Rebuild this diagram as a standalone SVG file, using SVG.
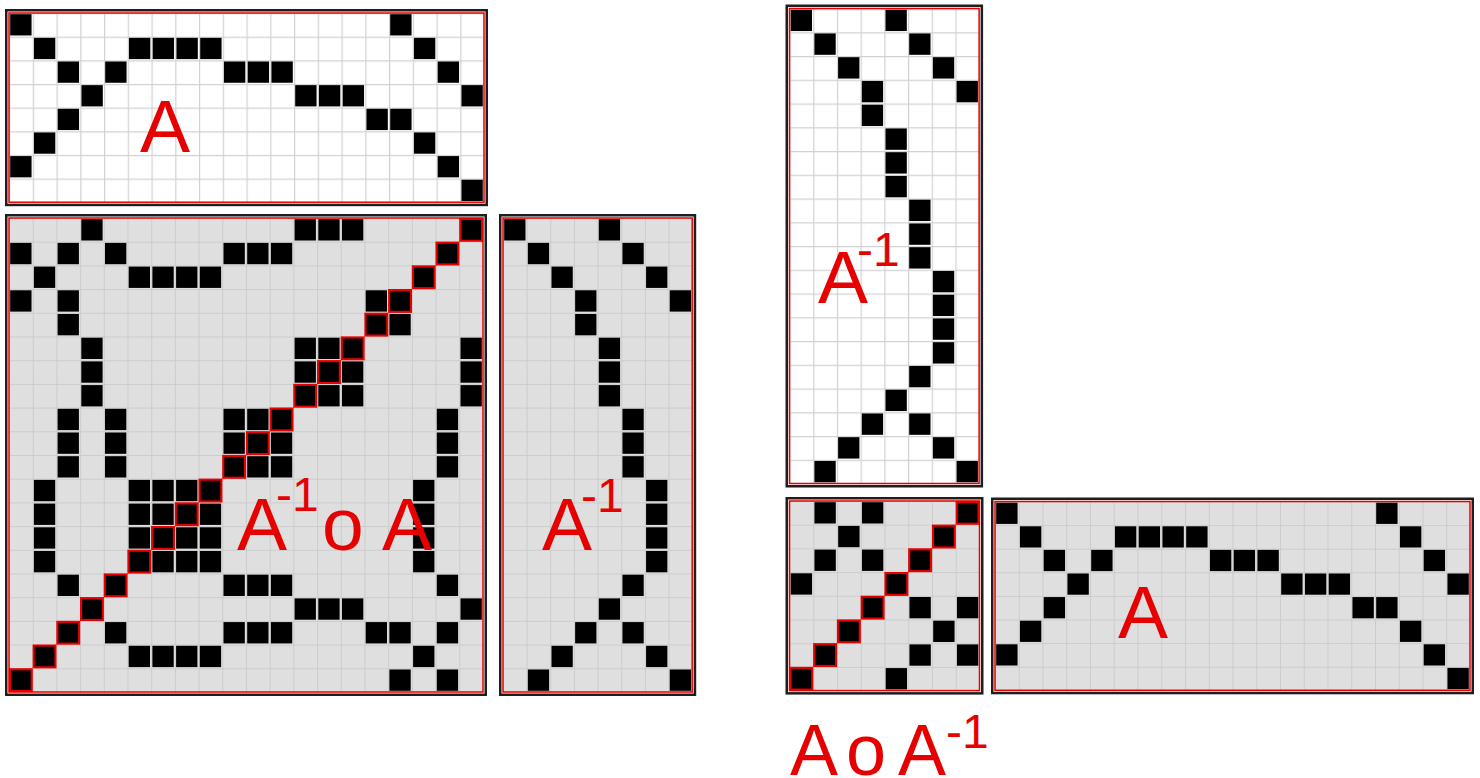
<svg xmlns="http://www.w3.org/2000/svg" width="1480" height="778" viewBox="0 0 1480 778">
<style>
.bw{fill:#ffffff}
.bg{fill:#dfdfdf}
.fo{fill:none;stroke:#1e1e1e;stroke-width:2.5}
.fr{fill:none;stroke:#e60000;stroke-width:1.5}
.lbl{font-family:"Liberation Sans",Arial,sans-serif;font-size:75px;fill:#e60000}
.sup{font-size:48px}
</style>
<defs>
<pattern id="gw" width="1" height="1" patternUnits="userSpaceOnUse"><path d="M0 0.025H1M0.025 0V1" fill="none" stroke="#d2d2d2" stroke-width="0.05"/></pattern>
<pattern id="gg" width="1" height="1" patternUnits="userSpaceOnUse"><path d="M0 0.02H1M0.02 0V1" fill="none" stroke="#cbcbcb" stroke-width="0.04"/></pattern>
<rect id="c" x="0.05" y="0.05" width="0.9" height="0.9" fill="#000"/>
<rect id="r" x="0.04" y="0.04" width="0.92" height="0.92" fill="#000" stroke="#e60000" stroke-width="0.09"/>
</defs>

<g id="A-top">
<g transform="translate(9,13) scale(23.75,23.65)">
<rect class="bw" width="20" height="8"/>
<rect fill="url(#gw)" width="20" height="8"/>
<use href="#c" x="0" y="0"/><use href="#c" x="16" y="0"/>
<use href="#c" x="1" y="1"/><use href="#c" x="5" y="1"/><use href="#c" x="6" y="1"/><use href="#c" x="7" y="1"/><use href="#c" x="8" y="1"/><use href="#c" x="17" y="1"/>
<use href="#c" x="2" y="2"/><use href="#c" x="4" y="2"/><use href="#c" x="9" y="2"/><use href="#c" x="10" y="2"/><use href="#c" x="11" y="2"/><use href="#c" x="18" y="2"/>
<use href="#c" x="3" y="3"/><use href="#c" x="12" y="3"/><use href="#c" x="13" y="3"/><use href="#c" x="14" y="3"/><use href="#c" x="19" y="3"/>
<use href="#c" x="2" y="4"/><use href="#c" x="15" y="4"/><use href="#c" x="16" y="4"/>
<use href="#c" x="1" y="5"/><use href="#c" x="17" y="5"/>
<use href="#c" x="0" y="6"/><use href="#c" x="18" y="6"/>
<use href="#c" x="19" y="7"/>
</g>
<rect class="fr" x="9" y="13" width="475" height="189.2"/>
<rect class="fo" x="6.25" y="10.25" width="480.5" height="194.7"/>
<text class="lbl" x="140" y="152">A</text>
</g>

<g id="Ainv-o-A">
<g transform="translate(9,218) scale(23.7)">
<rect class="bg" width="20" height="20"/>
<rect fill="url(#gg)" width="20" height="20"/>
<use href="#c" x="3" y="0"/><use href="#c" x="12" y="0"/><use href="#c" x="13" y="0"/><use href="#c" x="14" y="0"/>
<use href="#c" x="0" y="1"/><use href="#c" x="2" y="1"/><use href="#c" x="4" y="1"/><use href="#c" x="9" y="1"/><use href="#c" x="10" y="1"/><use href="#c" x="11" y="1"/>
<use href="#c" x="1" y="2"/><use href="#c" x="5" y="2"/><use href="#c" x="6" y="2"/><use href="#c" x="7" y="2"/><use href="#c" x="8" y="2"/>
<use href="#c" x="0" y="3"/><use href="#c" x="2" y="3"/><use href="#c" x="15" y="3"/>
<use href="#c" x="2" y="4"/><use href="#c" x="16" y="4"/>
<use href="#c" x="3" y="5"/><use href="#c" x="12" y="5"/><use href="#c" x="13" y="5"/><use href="#c" x="19" y="5"/>
<use href="#c" x="3" y="6"/><use href="#c" x="12" y="6"/><use href="#c" x="14" y="6"/><use href="#c" x="19" y="6"/>
<use href="#c" x="3" y="7"/><use href="#c" x="13" y="7"/><use href="#c" x="14" y="7"/><use href="#c" x="19" y="7"/>
<use href="#c" x="2" y="8"/><use href="#c" x="4" y="8"/><use href="#c" x="9" y="8"/><use href="#c" x="10" y="8"/><use href="#c" x="18" y="8"/>
<use href="#c" x="2" y="9"/><use href="#c" x="4" y="9"/><use href="#c" x="9" y="9"/><use href="#c" x="11" y="9"/><use href="#c" x="18" y="9"/>
<use href="#c" x="2" y="10"/><use href="#c" x="4" y="10"/><use href="#c" x="10" y="10"/><use href="#c" x="11" y="10"/><use href="#c" x="18" y="10"/>
<use href="#c" x="1" y="11"/><use href="#c" x="5" y="11"/><use href="#c" x="6" y="11"/><use href="#c" x="7" y="11"/><use href="#c" x="17" y="11"/>
<use href="#c" x="1" y="12"/><use href="#c" x="5" y="12"/><use href="#c" x="6" y="12"/><use href="#c" x="8" y="12"/><use href="#c" x="17" y="12"/>
<use href="#c" x="1" y="13"/><use href="#c" x="5" y="13"/><use href="#c" x="7" y="13"/><use href="#c" x="8" y="13"/><use href="#c" x="17" y="13"/>
<use href="#c" x="1" y="14"/><use href="#c" x="6" y="14"/><use href="#c" x="7" y="14"/><use href="#c" x="8" y="14"/><use href="#c" x="17" y="14"/>
<use href="#c" x="2" y="15"/><use href="#c" x="9" y="15"/><use href="#c" x="10" y="15"/><use href="#c" x="11" y="15"/><use href="#c" x="18" y="15"/>
<use href="#c" x="12" y="16"/><use href="#c" x="13" y="16"/><use href="#c" x="14" y="16"/><use href="#c" x="19" y="16"/>
<use href="#c" x="4" y="17"/><use href="#c" x="9" y="17"/><use href="#c" x="10" y="17"/><use href="#c" x="11" y="17"/><use href="#c" x="15" y="17"/><use href="#c" x="16" y="17"/><use href="#c" x="18" y="17"/>
<use href="#c" x="5" y="18"/><use href="#c" x="6" y="18"/><use href="#c" x="7" y="18"/><use href="#c" x="8" y="18"/><use href="#c" x="17" y="18"/>
<use href="#c" x="16" y="19"/><use href="#c" x="18" y="19"/>
<use href="#r" x="19" y="0"/><use href="#r" x="18" y="1"/><use href="#r" x="17" y="2"/><use href="#r" x="16" y="3"/><use href="#r" x="15" y="4"/>
<use href="#r" x="14" y="5"/><use href="#r" x="13" y="6"/><use href="#r" x="12" y="7"/><use href="#r" x="11" y="8"/><use href="#r" x="10" y="9"/>
<use href="#r" x="9" y="10"/><use href="#r" x="8" y="11"/><use href="#r" x="7" y="12"/><use href="#r" x="6" y="13"/><use href="#r" x="5" y="14"/>
<use href="#r" x="4" y="15"/><use href="#r" x="3" y="16"/><use href="#r" x="2" y="17"/><use href="#r" x="1" y="18"/><use href="#r" x="0" y="19"/>
</g>
<rect class="fr" x="9" y="218" width="474" height="474"/>
<rect class="fo" x="6.25" y="215.25" width="479.5" height="479.5"/>
<text class="lbl"><tspan x="237" y="550">A</tspan><tspan class="sup" x="276" y="511">-1</tspan><tspan x="322" y="550">o</tspan><tspan x="382" y="550">A</tspan></text>
</g>

<g id="Ainv-mid">
<g transform="translate(503,218) scale(23.65,23.7)">
<rect class="bg" width="8" height="20"/>
<rect fill="url(#gg)" width="8" height="20"/>
<use href="#c" x="0" y="0"/><use href="#c" x="4" y="0"/>
<use href="#c" x="1" y="1"/><use href="#c" x="5" y="1"/>
<use href="#c" x="2" y="2"/><use href="#c" x="6" y="2"/>
<use href="#c" x="3" y="3"/><use href="#c" x="7" y="3"/>
<use href="#c" x="3" y="4"/>
<use href="#c" x="4" y="5"/><use href="#c" x="4" y="6"/><use href="#c" x="4" y="7"/>
<use href="#c" x="5" y="8"/><use href="#c" x="5" y="9"/><use href="#c" x="5" y="10"/>
<use href="#c" x="6" y="11"/><use href="#c" x="6" y="12"/><use href="#c" x="6" y="13"/><use href="#c" x="6" y="14"/>
<use href="#c" x="5" y="15"/>
<use href="#c" x="4" y="16"/>
<use href="#c" x="3" y="17"/><use href="#c" x="5" y="17"/>
<use href="#c" x="2" y="18"/><use href="#c" x="6" y="18"/>
<use href="#c" x="1" y="19"/><use href="#c" x="7" y="19"/>
</g>
<rect class="fr" x="503" y="218" width="189.2" height="474"/>
<rect class="fo" x="500.25" y="215.25" width="194.7" height="479.5"/>
<text class="lbl"><tspan x="542" y="550">A</tspan><tspan class="sup" x="581" y="512">-1</tspan></text>
</g>

<g id="Ainv-right">
<g transform="translate(789.5,8.5) scale(23.7,23.75)">
<rect class="bw" width="8" height="20"/>
<rect fill="url(#gw)" width="8" height="20"/>
<use href="#c" x="0" y="0"/><use href="#c" x="4" y="0"/>
<use href="#c" x="1" y="1"/><use href="#c" x="5" y="1"/>
<use href="#c" x="2" y="2"/><use href="#c" x="6" y="2"/>
<use href="#c" x="3" y="3"/><use href="#c" x="7" y="3"/>
<use href="#c" x="3" y="4"/>
<use href="#c" x="4" y="5"/><use href="#c" x="4" y="6"/><use href="#c" x="4" y="7"/>
<use href="#c" x="5" y="8"/><use href="#c" x="5" y="9"/><use href="#c" x="5" y="10"/>
<use href="#c" x="6" y="11"/><use href="#c" x="6" y="12"/><use href="#c" x="6" y="13"/><use href="#c" x="6" y="14"/>
<use href="#c" x="5" y="15"/>
<use href="#c" x="4" y="16"/>
<use href="#c" x="3" y="17"/><use href="#c" x="5" y="17"/>
<use href="#c" x="2" y="18"/><use href="#c" x="6" y="18"/>
<use href="#c" x="1" y="19"/><use href="#c" x="7" y="19"/>
</g>
<rect class="fr" x="789.5" y="8.5" width="189.6" height="475"/>
<rect class="fo" x="786.75" y="5.75" width="195.1" height="480.5"/>
<text class="lbl"><tspan x="818" y="303">A</tspan><tspan class="sup" x="857" y="266">-1</tspan></text>
</g>

<g id="A-o-Ainv">
<g transform="translate(789.5,501) scale(23.75,23.7)">
<rect class="bg" width="8" height="8"/>
<rect fill="url(#gg)" width="8" height="8"/>
<use href="#c" x="1" y="0"/><use href="#c" x="3" y="0"/>
<use href="#c" x="2" y="1"/>
<use href="#c" x="1" y="2"/><use href="#c" x="3" y="2"/>
<use href="#c" x="0" y="3"/>
<use href="#c" x="5" y="4"/><use href="#c" x="7" y="4"/>
<use href="#c" x="6" y="5"/>
<use href="#c" x="5" y="6"/><use href="#c" x="7" y="6"/>
<use href="#c" x="4" y="7"/>
<use href="#r" x="7" y="0"/><use href="#r" x="6" y="1"/><use href="#r" x="5" y="2"/><use href="#r" x="4" y="3"/>
<use href="#r" x="3" y="4"/><use href="#r" x="2" y="5"/><use href="#r" x="1" y="6"/><use href="#r" x="0" y="7"/>
</g>
<rect class="fr" x="789.5" y="501" width="190" height="189.6"/>
<rect class="fo" x="786.75" y="498.25" width="195.5" height="195.1"/>
<text class="lbl" style="font-size:72px"><tspan x="790" y="775">A</tspan><tspan x="846" y="775">o</tspan><tspan x="898" y="775">A</tspan><tspan class="sup" x="946" y="748">-1</tspan></text>
</g>

<g id="A-bottom">
<g transform="translate(995,501.5) scale(23.75,23.6)">
<rect class="bg" width="20" height="8"/>
<rect fill="url(#gg)" width="20" height="8"/>
<use href="#c" x="0" y="0"/><use href="#c" x="16" y="0"/>
<use href="#c" x="1" y="1"/><use href="#c" x="5" y="1"/><use href="#c" x="6" y="1"/><use href="#c" x="7" y="1"/><use href="#c" x="8" y="1"/><use href="#c" x="17" y="1"/>
<use href="#c" x="2" y="2"/><use href="#c" x="4" y="2"/><use href="#c" x="9" y="2"/><use href="#c" x="10" y="2"/><use href="#c" x="11" y="2"/><use href="#c" x="18" y="2"/>
<use href="#c" x="3" y="3"/><use href="#c" x="12" y="3"/><use href="#c" x="13" y="3"/><use href="#c" x="14" y="3"/><use href="#c" x="19" y="3"/>
<use href="#c" x="2" y="4"/><use href="#c" x="15" y="4"/><use href="#c" x="16" y="4"/>
<use href="#c" x="1" y="5"/><use href="#c" x="17" y="5"/>
<use href="#c" x="0" y="6"/><use href="#c" x="18" y="6"/>
<use href="#c" x="19" y="7"/>
</g>
<rect class="fr" x="995" y="501.5" width="475" height="188.8"/>
<rect class="fo" x="992.25" y="498.75" width="480.5" height="194.3"/>
<text class="lbl" x="1118" y="638">A</text>
</g>
</svg>
